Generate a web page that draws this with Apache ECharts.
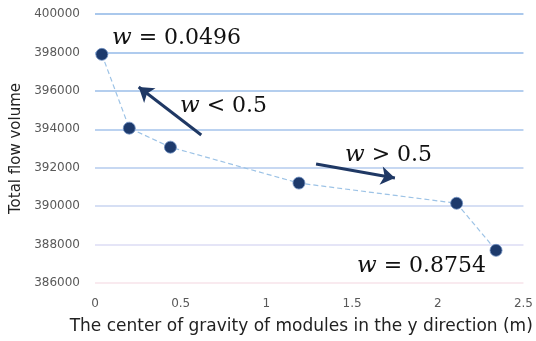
<!DOCTYPE html>
<html>
<head>
<meta charset="utf-8">
<script src="https://cdn.jsdelivr.net/npm/echarts@6/dist/echarts.min.js"></script>
<style>
  html, body { margin: 0; padding: 0; background: #fff; }
  #chart { width: 536px; height: 341px; }
</style>
</head>
<body>
<div id="chart"></div>
<script>
// 模块重心位置 (m) 与总流量
const gravityY = [0.04, 0.20, 0.44, 1.19, 2.11, 2.34];
const flowVolume = [397900, 394060, 393070, 391200, 390150, 387700];

// 箭头 (起点 -> 终点, 数据坐标)
const arrowLess = [[0.62, 393700], [0.255, 396200]];
const arrowMore = [[1.29, 392190], [1.75, 391460]];

// 网格线颜色，从下往上
const gridColors = ['#f7e3ea', '#dcdcf4', '#c8d5f1', '#b5cbee', '#a5c3eb', '#9bbee9', '#94bae8', '#8eb6e6'];

const el = document.getElementById('chart');
const chart = echarts.init(el);

const arrowLine = (pair) => [{ coord: pair[0] }, { coord: pair[1] }];

const mathText = (left, top, rest) => ({
  type: 'text',
  left: left,
  top: top,
  style: {
    text: '{i|w}' + rest,
    font: '22px "DejaVu Serif"',
    fill: '#111',
    rich: {
      i: { fontFamily: 'DejaVu Serif', fontStyle: 'italic', fontSize: 23, fill: '#111' }
    }
  }
});

chart.setOption({
  animation: false,
  grid: { left: 95, right: 9, top: 14, bottom: 58 },
  xAxis: {
    type: 'value',
    min: 0,
    max: 2.5,
    interval: 0.5,
    name: 'The center of gravity of modules in the y direction (m)',
    nameLocation: 'middle',
    nameGap: 35,
    nameTextStyle: { fontFamily: 'DejaVu Sans', fontSize: 17, color: '#222', padding: [0, 16, 0, 0] },
    axisLine: { show: false },
    axisTick: { show: false },
    splitLine: { show: false },
    axisLabel: { fontFamily: 'DejaVu Sans', fontSize: 12, color: '#595959', margin: 15 }
  },
  yAxis: {
    type: 'value',
    min: 386000,
    max: 400000,
    interval: 2000,
    name: 'Total flow volume',
    nameLocation: 'middle',
    nameGap: 68,
    nameTextStyle: { fontFamily: 'DejaVu Sans', fontSize: 15, color: '#222' },
    axisLine: { show: false },
    axisTick: { show: false },
    axisLabel: { fontFamily: 'DejaVu Sans', fontSize: 12, color: '#595959', margin: 15, formatter: (v) => String(v) },
    splitLine: { lineStyle: { color: gridColors, width: 1.5 } }
  },
  series: [{
    type: 'line',
    data: gravityY.map((x, i) => [x, flowVolume[i]]),
    symbol: 'circle',
    symbolSize: 12,
    lineStyle: { color: '#9dc3e6', width: 1.2, type: [5, 3] },
    itemStyle: { color: '#1d3a6c', borderColor: '#6f8fc2', borderWidth: 0.8 },
    markLine: {
      silent: true,
      symbol: ['none', 'arrow'],
      symbolSize: [14, 14],
      label: { show: false },
      lineStyle: { color: '#1f3864', width: 3, type: 'solid' },
      data: [arrowLine(arrowLess), arrowLine(arrowMore)]
    },
    z: 3
  }],
  graphic: [
    mathText(112, 27, ' = 0.0496'),
    mathText(180, 95, ' < 0.5'),
    mathText(345, 144, ' > 0.5'),
    mathText(357, 255, ' = 0.8754')
  ]
});
</script>
</body>
</html>
